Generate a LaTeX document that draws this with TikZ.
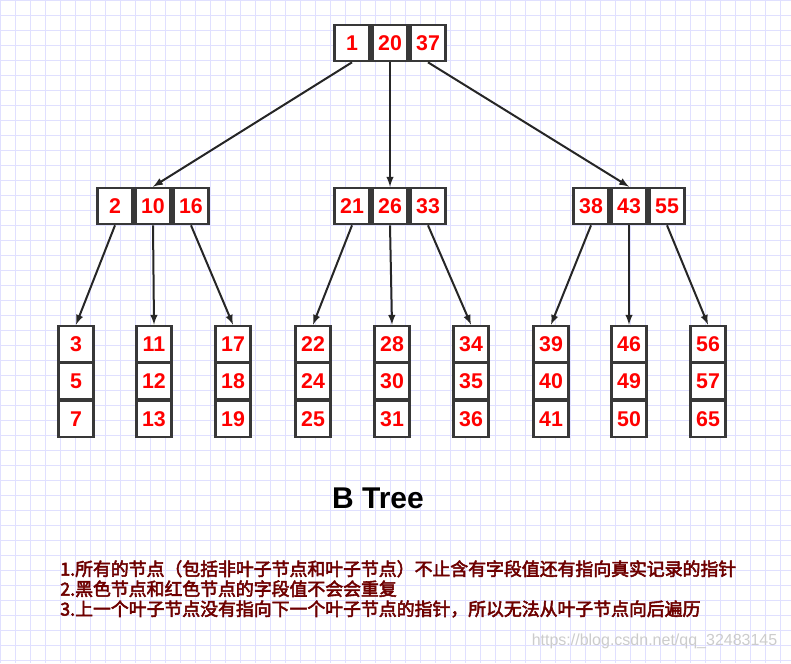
\documentclass[tikz,border=0pt]{standalone}
\usepackage{fontspec}
\setmainfont{Liberation Sans}
\newfontfamily\cjk[AutoFakeBold=3]{Noto Sans CJK SC}
\begin{document}
\begin{tikzpicture}[x=0.75pt,y=-0.75pt,
  cell/.style={draw=black!78,line width=2pt,fill=white,minimum width=35*0.75pt,minimum height=36*0.75pt,inner sep=0pt,text=red,font=\bfseries\fontsize{16}{16}\selectfont},
  arr/.style={-latex,line width=1.5pt,black!85}]
\fill[white] (0,0) rectangle (791,663);
\useasboundingbox (0,0) rectangle (791,663);
\draw[blue!12,line width=0.5pt] (0,0) grid[step=15*0.75pt] (791,663);
% top
\foreach \n/\x/\t in {a/352/1,b/390/20,c/428/37}{\node[cell] (t\n) at (\x,43) {\t};}
% level 2
\foreach \g/\xa/\ta/\tb/\tc in {l/115/2/10/16,m/352/21/26/33,r/591/38/43/55}{
  \node[cell] (\g a) at (\xa,206) {\ta};
  \node[cell] (\g b) at (\xa+38,206) {\tb};
  \node[cell] (\g c) at (\xa+76,206) {\tc};}
% leaves
\foreach \i/\x/\p/\q/\r in {1/76/3/5/7,2/154/11/12/13,3/233/17/18/19,4/313/22/24/25,5/392/28/30/31,6/471/34/35/36,7/551/39/40/41,8/629/46/49/50,9/708/56/57/65}{
  \node[cell] (L\i a) at (\x,344) {\p};
  \node[cell] (L\i b) at (\x,381) {\q};
  \node[cell] (L\i c) at (\x,419) {\r};}
\draw[arr] (ta.south) -- (lb.north);
\draw[arr] (tb.south) -- (mb.north);
\draw[arr] (tc.south) -- (rb.north);
\draw[arr] (la.south) -- (L1a.north);
\draw[arr] (lb.south) -- (L2a.north);
\draw[arr] (lc.south) -- (L3a.north);
\draw[arr] (ma.south) -- (L4a.north);
\draw[arr] (mb.south) -- (L5a.north);
\draw[arr] (mc.south) -- (L6a.north);
\draw[arr] (ra.south) -- (L7a.north);
\draw[arr] (rb.south) -- (L8a.north);
\draw[arr] (rc.south) -- (L9a.north);
\node[font=\bfseries\fontsize{22.5}{22.5}\selectfont] (title) at (378,498) {B Tree};
\node[anchor=north west,align=left,text={rgb,255:red,110;green,0;blue,0},font=\cjk\bfseries\fontsize{13.4}{15}\selectfont,inner sep=0pt] (notes) at (60,560)
 {1.所有的节点（包括非叶子节点和叶子节点）不止含有字段值还有指向真实记录的指针\\
  2.黑色节点和红色节点的字段值不会会重复\\
  3.上一个叶子节点没有指向下一个叶子节点的指针，所以无法从叶子节点向后遍历};
\node[anchor=east,text=black!20,font=\fontsize{12}{12}\selectfont] (wm) at (782,641) {https://blog.csdn.net/qq\_32483145};
\end{tikzpicture}
\end{document}
